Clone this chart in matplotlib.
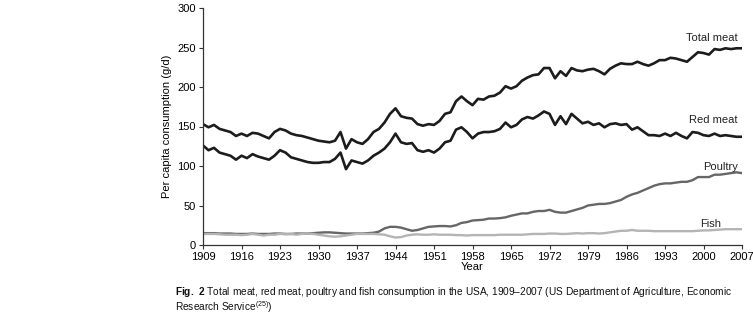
import numpy as np
import matplotlib
matplotlib.use("Agg")
import matplotlib.pyplot as plt
from matplotlib import font_manager

# font: narrow Helvetica-like if available
names = {f.name for f in font_manager.fontManager.ttflist}
narrow = "Liberation Sans Narrow" if "Liberation Sans Narrow" in names else "Liberation Sans"
plt.rcParams["font.family"] = ["Liberation Sans", "DejaVu Sans"]
plt.rcParams["mathtext.fontset"] = "custom"
plt.rcParams["mathtext.rm"] = narrow
plt.rcParams["mathtext.bf"] = narrow + ":bold"

years = np.arange(1909, 2008)

total_meat = [
    153, 149, 152, 147, 145, 143, 138, 141, 138, 142,
    141, 138, 135, 143, 147, 145, 141, 139, 138, 136,
    134, 132, 131, 130, 132, 143, 122, 134, 130, 128,
    134, 143, 147, 155, 166, 173, 163, 161, 160, 153,
    151, 153, 152, 157, 166, 168, 182, 188, 182, 177,
    185, 184, 188, 189, 193, 201, 198, 201, 208, 212,
    215, 216, 224, 224, 211, 220, 214, 224, 221, 220,
    222, 223, 220, 216, 223, 227, 230, 229, 229, 232,
    229, 227, 230, 234, 234, 237, 236, 234, 232, 238,
    244, 243, 241, 248, 247, 249, 248, 249, 249,
]

red_meat = [
    126, 120, 123, 117, 115, 113, 108, 113, 110, 115,
    112, 110, 108, 113, 120, 117, 111, 109, 107, 105,
    104, 104, 105, 105, 109, 117, 96, 107, 105, 103,
    107, 113, 117, 122, 130, 141, 130, 128, 129, 120,
    118, 120, 117, 122, 130, 132, 146, 149, 143, 135,
    141, 143, 143, 144, 147, 155, 149, 152, 159, 162,
    160, 164, 169, 166, 152, 163, 153, 166, 160, 154,
    156, 152, 154, 149, 153, 154, 152, 153, 146, 149,
    144, 139, 139, 138, 141, 138, 142, 138, 135, 143,
    142, 139, 138, 141, 138, 139, 138, 137, 137,
]

poultry = [
    15, 15, 15, 14.5, 14.5, 14.5, 14, 14, 14, 14.5,
    14, 14, 14, 14.5, 14.5, 14, 14, 14.5, 14.5, 14.5,
    15, 15.5, 16, 16, 15.5, 15, 14.5, 14.5, 14.5, 14.5,
    15, 15.5, 17, 21, 23, 23, 22, 20, 18, 19,
    21, 23, 23.5, 24, 24, 23.5, 25, 28, 29, 31,
    31.5, 32, 33.5, 33.5, 34, 35, 37, 38.5, 40, 40,
    42, 43, 43, 44.5, 42, 41, 41, 43, 45, 47,
    50, 51, 52, 52, 53, 55, 57, 61, 64, 66,
    69, 72, 75, 77, 78, 78, 79, 80, 80, 82,
    86, 86, 86, 89, 89, 90, 91, 92, 91,
]

fish = [
    14, 14, 14, 13.5, 13, 13, 13, 12.5, 13, 14,
    13, 12, 13, 13, 14, 13.5, 14, 13, 14, 14.5,
    14, 13, 12, 11, 10.5, 11, 12, 13, 14, 14,
    14, 14, 13.5, 13, 11, 9.5, 10, 12, 13, 13.5,
    13, 13, 13.5, 13, 13, 13, 12.5, 12.5, 12, 12.5,
    12.5, 12.5, 12.5, 12.5, 13, 13, 13, 13, 13, 13.5,
    14, 14, 14, 14.5, 14.5, 14, 14, 14.5, 15, 14.5,
    15, 15, 14.5, 15, 16, 17, 18, 18, 19, 18,
    18, 18, 17.5, 17.5, 17.5, 17.5, 17.5, 17.5, 17.5, 17.5,
    18, 18.5, 18.5, 19, 19.5, 20, 20, 20, 20,
]

xtick_years = list(range(1909, 2008, 7))

fig = plt.figure(figsize=(7.53, 3.25), dpi=100)
ax = fig.add_axes([203 / 753, 1 - 245 / 325, (742 - 203) / 753, (245 - 8) / 325])

ax.plot(years, total_meat, color="#1c1c1c", lw=1.9, solid_joinstyle="round")
ax.plot(years, red_meat, color="#1c1c1c", lw=1.9, solid_joinstyle="round")
ax.plot(years, poultry, color="#666666", lw=1.7, solid_joinstyle="round")
ax.plot(years, fish, color="#b4b4b4", lw=1.7, solid_joinstyle="round")

ax.set_xlim(1909, 2007)
ax.set_ylim(0, 300)
ax.set_xticks(xtick_years)
ax.set_yticks(range(0, 301, 50))
ax.tick_params(labelsize=8, length=3, width=0.8, color="#333333", pad=2)
for s in ["top", "right"]:
    ax.spines[s].set_visible(False)
for s in ["left", "bottom"]:
    ax.spines[s].set_linewidth(0.9)
    ax.spines[s].set_color("#333333")

ax.set_xlabel("Year", fontsize=8, labelpad=0)
ax.set_ylabel("Per capita consumption (g/d)", fontsize=8, labelpad=4)

lab = dict(fontsize=8, ha="right", va="center", color="#222222")
ax.text(2006.2, 262, "Total meat", **lab)
ax.text(2006.2, 158, "Red meat", **lab)
ax.text(2006.2, 99, "Poultry", **lab)
ax.text(2003.2, 26, "Fish", **lab)

cap = dict(fontsize=7.25, ha="left", va="center", color="#111111")
fig.text(175 / 753, 1 - 292 / 325,
         r"$\bf{Fig.\ 2}$ Total meat, red meat, poultry and fish consumption in the USA, "
         "1909\u20132007 (US Department of Agriculture, Economic", family=narrow, **cap)
fig.text(175 / 753, 1 - 307 / 325, r"Research Service$^{(25)}$)", family=narrow, **cap)

fig.savefig("out.png", dpi=100)
